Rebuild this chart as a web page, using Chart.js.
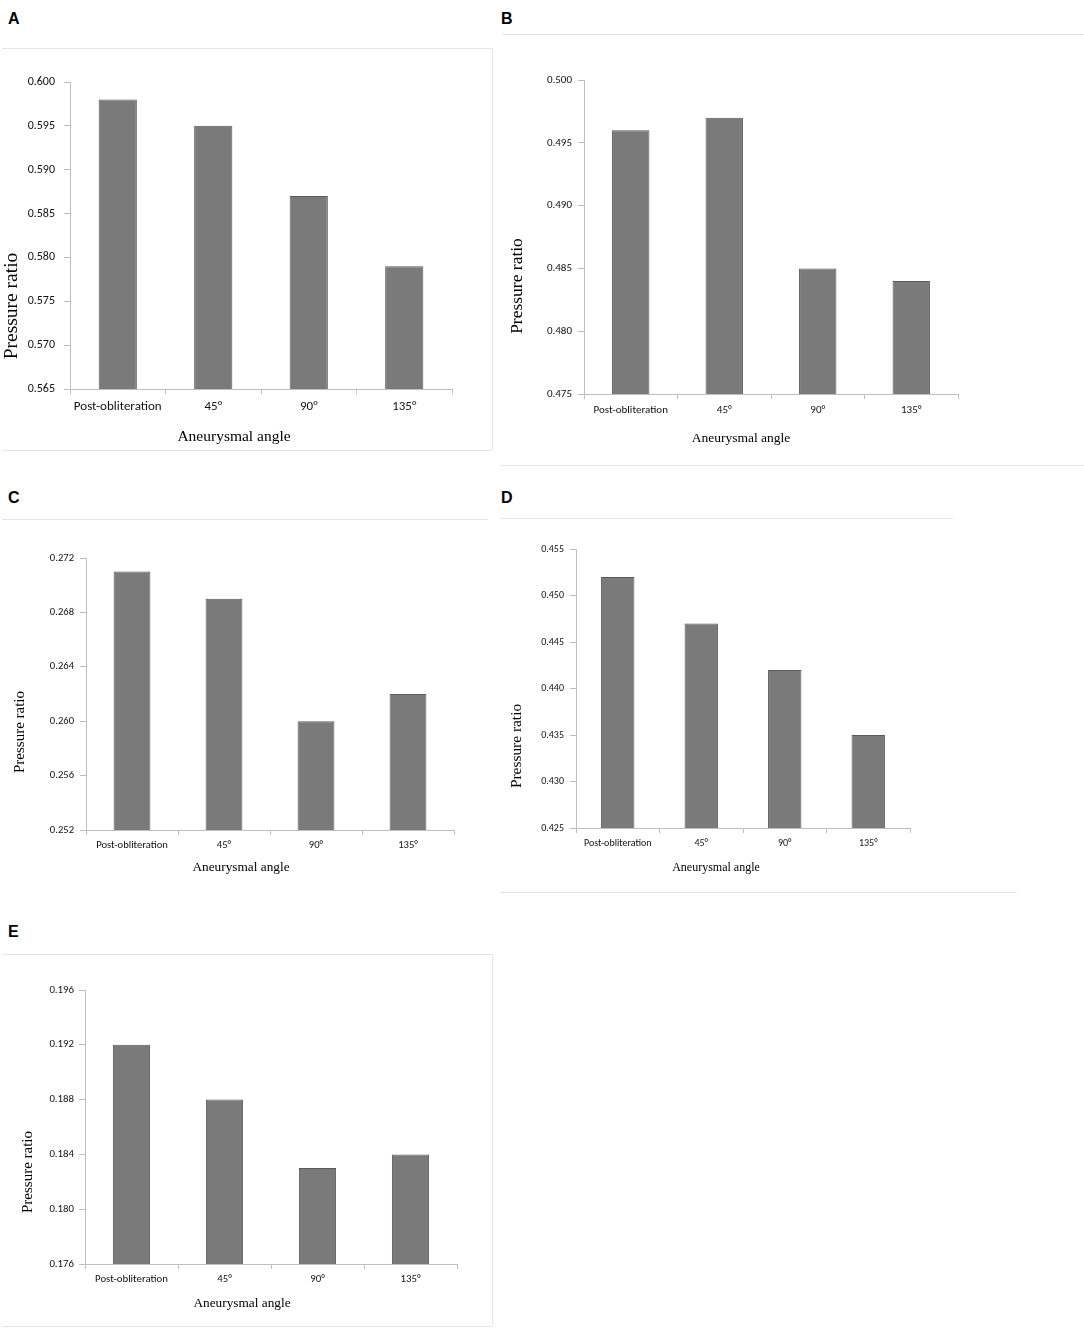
<!DOCTYPE html>
<html>
<head>
<meta charset="utf-8">
<title>Pressure ratio by aneurysmal angle</title>
<script src="https://cdn.jsdelivr.net/npm/chart.js@4.4.1/dist/chart.umd.min.js"></script>
<style>
  body { margin: 0; background: #fff; }
  #page { position: relative; width: 1084px; height: 1338px; overflow: hidden; }
  canvas { position: absolute; }
  .letter { position: absolute; font: bold 16px "Liberation Sans", Arial, sans-serif; line-height: 16px; color: #000; }
  .hline { position: absolute; height: 0; border-top: 1px solid #e6e6e6; }
  .vline { position: absolute; width: 0; border-left: 1px solid #e6e6e6; }
</style>
</head>
<body>
<div id="page">
  <div class="letter" style="left:8px;top:11px">A</div>
  <div class="letter" style="left:501px;top:11px">B</div>
  <div class="letter" style="left:8px;top:490px">C</div>
  <div class="letter" style="left:501px;top:490px">D</div>
  <div class="letter" style="left:8px;top:924px">E</div>

  <!-- faint panel frames -->
  <div class="hline" style="left:2px;top:48px;width:490px"></div>
  <div class="vline" style="left:492px;top:48px;height:402px"></div>
  <div class="hline" style="left:2px;top:450px;width:490px"></div>
  <div class="hline" style="left:502px;top:34px;width:582px"></div>
  <div class="hline" style="left:500px;top:465px;width:584px"></div>
  <div class="hline" style="left:2px;top:519px;width:486px"></div>
  <div class="hline" style="left:500px;top:518px;width:453px"></div>
  <div class="hline" style="left:500px;top:892px;width:517px"></div>
  <div class="hline" style="left:2px;top:954px;width:490px"></div>
  <div class="vline" style="left:492px;top:954px;height:372px"></div>
  <div class="hline" style="left:2px;top:1326px;width:490px"></div>

  <canvas id="chartA" width="480" height="400" style="left:0px;top:50px"></canvas>
  <canvas id="chartB" width="590" height="410" style="left:494px;top:50px"></canvas>
  <canvas id="chartC" width="480" height="375" style="left:0px;top:525px"></canvas>
  <canvas id="chartD" width="590" height="360" style="left:494px;top:525px"></canvas>
  <canvas id="chartE" width="480" height="365" style="left:0px;top:960px"></canvas>
</div>
<script>
// data
const categories = ["Post-obliteration", "45°", "90°", "135°"];
const valuesA = [0.598, 0.595, 0.587, 0.579];
const valuesB = [0.496, 0.497, 0.485, 0.484];
const valuesC = [0.271, 0.269, 0.260, 0.262];
const valuesD = [0.452, 0.447, 0.442, 0.435];
const valuesE = [0.192, 0.188, 0.183, 0.184];

// y axis: [min, max, step]
const axisA = [0.565, 0.600, 0.005];
const axisB = [0.475, 0.500, 0.005];
const axisC = [0.252, 0.272, 0.004];
const axisD = [0.425, 0.455, 0.005];
const axisE = [0.176, 0.196, 0.004];

const xTitle = "Aneurysmal angle";
const yTitle = "Pressure ratio";

const axisColor = "#bfbfbf";
const sansFont = 'Carlito, Lato, "Liberation Sans", sans-serif';
const serifFont = '"Liberation Serif", "Times New Roman", serif';

// draws the two axis titles at fixed spots in the canvas
const axisTitles = {
  id: "axisTitles",
  afterDraw(chart, args, opts) {
    const ctx = chart.ctx;
    ctx.save();
    ctx.fillStyle = "#000";
    ctx.textAlign = "center";
    ctx.textBaseline = "middle";
    ctx.font = opts.xSize + "px " + serifFont;
    ctx.fillText(xTitle, opts.xAt[0], opts.xAt[1]);
    ctx.translate(opts.yAt[0], opts.yAt[1]);
    ctx.rotate(-Math.PI / 2);
    ctx.font = opts.ySize + "px " + serifFont;
    ctx.fillText(yTitle, 0, 0);
    ctx.restore();
  }
};

function makeChart(id, values, axis, lay) {
  const ctx = document.getElementById(id).getContext("2d");
  return new Chart(ctx, {
    type: "bar",
    data: {
      labels: categories,
      datasets: [{
        label: yTitle,
        data: values,
        backgroundColor: "#7a7a7a",
        borderColor: "#5a5a5a",
        borderWidth: { top: 1, left: 1, right: 1, bottom: 0 },
        borderSkipped: false,
        barPercentage: 0.4,
        categoryPercentage: 1.0
      }]
    },
    options: {
      responsive: false,
      animation: false,
      layout: { padding: { top: lay.top, right: lay.right, left: 0, bottom: 0 } },
      plugins: {
        legend: { display: false },
        tooltip: { enabled: false },
        axisTitles: { xAt: lay.xAt, yAt: lay.yAt, xSize: lay.xSize, ySize: lay.ySize }
      },
      scales: {
        x: {
          offset: true,
          grid: { offset: true, drawOnChartArea: false, drawTicks: true, tickLength: 5, color: axisColor },
          border: { color: axisColor },
          ticks: { color: "#111", font: { family: sansFont, size: lay.catSize }, padding: lay.catPad, maxRotation: 0 },
          afterFit: (s) => { s.height = lay.xH; }
        },
        y: {
          min: axis[0],
          max: axis[1],
          grid: { drawOnChartArea: false, drawTicks: true, tickLength: 6, color: axisColor },
          border: { color: axisColor },
          ticks: {
            stepSize: axis[2],
            color: "#111",
            font: { family: sansFont, size: lay.tickSize },
            padding: lay.tickPad,
            callback: (v) => Number(v).toFixed(3)
          },
          afterFit: (s) => { s.width = lay.yW; }
        }
      }
    },
    plugins: [axisTitles]
  });
}

makeChart("chartA", valuesA, axisA, {
  top: 32, right: 28, yW: 70, xH: 61, catSize: 13, catPad: 5, tickSize: 12, tickPad: 9,
  xAt: [234, 387], yAt: [12, 256], xSize: 15.5, ySize: 19.5
});
makeChart("chartB", valuesB, axisB, {
  top: 30, right: 126, yW: 90, xH: 66, catSize: 11, catPad: 5, tickSize: 11, tickPad: 6,
  xAt: [247, 388], yAt: [23, 236], xSize: 13.5, ySize: 17.5
});
makeChart("chartC", valuesC, axisC, {
  top: 33, right: 26, yW: 86, xH: 70, catSize: 10.6, catPad: 4, tickSize: 10.6, tickPad: 6,
  xAt: [241, 343], yAt: [20, 207], xSize: 13.3, ySize: 15
});
makeChart("chartD", valuesD, axisD, {
  top: 24, right: 174, yW: 82, xH: 57, catSize: 10, catPad: 4, tickSize: 10, tickPad: 6,
  xAt: [222, 343], yAt: [23, 221], xSize: 12, ySize: 15.4
});
makeChart("chartE", valuesE, axisE, {
  top: 30, right: 23, yW: 85, xH: 61, catSize: 10.8, catPad: 4, tickSize: 10.8, tickPad: 5,
  xAt: [242, 344], yAt: [28, 212], xSize: 13.3, ySize: 15
});
</script>
</body>
</html>
